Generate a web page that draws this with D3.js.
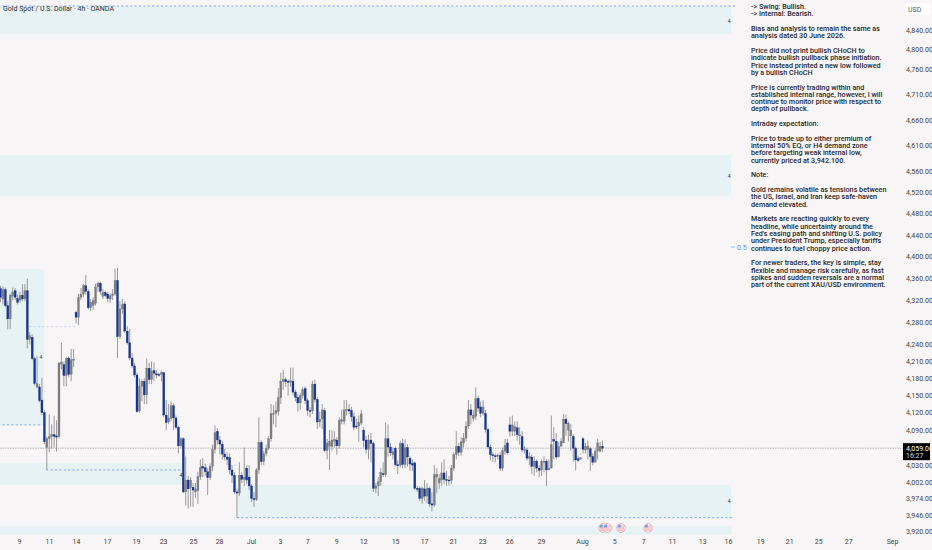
<!DOCTYPE html>
<html>
<head>
<meta charset="utf-8">
<script src="https://cdn.jsdelivr.net/npm/d3@7"></script>
<style>
  html, body { margin: 0; padding: 0; background: #f7f5f6; }
  svg { display: block; }
  .tick text { font-family: "Liberation Sans Narrow", Roboto, sans-serif; font-size: 7px; fill: #444; }
</style>
</head>
<body>
<div id="chart"></div>
<script>
// 4h candles, oldest first
const opens = [
  4341,4322,4339,4310,4286,4327,4337,4323,4320,4329,4322,4337,4249,4253,4215,4165,4165,4142,4120,4060,4075,4079,4082,4080,4079,4205,4204,4185,4216,4187,4212,
  4298,4289,4325,4331,4346,4336,4306,4310,4314,4344,4351,4327,4334,4331,4322,4328,4331,4356,4254,4304,4313,4264,4243,4216,4202,4186,4123,4166,4175,4151,4198,4178,4194,4188,4187,4187,
  4190,4116,4104,4110,4132,4111,4095,4063,4075,3985,4005,3992,3993,3985,3987,4011,4028,4026,4019,4009,4028,4057,4088,4073,4066,4049,4044,4043,4022,4013,3985,3983,4013,4006,4025,4010,3995,3974,
  3972,4022,4069,4036,4050,4059,4075,4117,4119,4122,4146,4174,4178,4175,4173,4175,4156,4147,4137,4150,4162,4141,
  4124,4123,4170,4143,4104,4109,4124,4055,4062,4062,4071,4073,4063,4105,4105,4124,4126,4124,4113,4097,4097,4102,
  4090,4073,4057,4073,4067,3991,3995,4002,4016,4014,4075,4061,4048,4059,4031,4030,4067,4031,4060,4042,4033,4034,3991,3991,3974,3990,3978,3991,3965,3963,4010,4000,4005,4017,4006,4005,4004,4025,4048,4062,4052,4068,4076,4097,4125,4110,4114,4145,4130,4119,4119,4091,4061,4048,4046,4045,4047,4025,4054,4068,
  4099,4088,4088,4094,4080,4079,4056,4056,4041,4044,4028,4037,4025,4022,4035,4037,4022,4025,4074,4071,4044,4062,4068,4109,4090,4080,4079,4059,4041,4040,4075,4056,4057,4058,4045,4035,4054,4054,4062
];
const highs = [
  4346,4345,4343,4318,4332,4343,4342,4330,4335,4349,4349,4359,4262,4258,4218,4219,4170,4181,4124,4079,4117,4100,4115,4107,4209,4243,4210,4218,4219,4232,4232,
  4301,4331,4342,4350,4366,4340,4322,4325,4350,4353,4353,4340,4337,4335,4332,4340,4378,4379,4318,4322,4318,4273,4268,4225,4207,4190,4180,4178,4180,4215,4208,4210,4208,4195,4190,4194,
  4192,4142,4135,4140,4136,4115,4098,4078,4078,4045,4012,4010,4000,4000,4018,4040,4042,4033,4025,4033,4065,4098,4093,4080,4072,4058,4052,4050,4030,4018,3990,4035,4018,4060,4030,4030,3998,3985,
  4025,4112,4072,4055,4065,4080,4135,4133,4140,4163,4190,4195,4182,4178,4199,4199,4160,4152,4155,4165,4166,4145,
  4130,4176,4178,4147,4122,4135,4128,4075,4090,4090,4088,4078,4112,4125,4142,4142,4135,4130,4120,4110,4115,4125,
  4095,4080,4082,4085,4070,4000,4010,4025,4035,4103,4100,4068,4060,4062,4038,4072,4075,4074,4066,4045,4040,4036,3995,3994,3994,4005,4000,3994,3985,4030,4025,4015,4035,4040,4020,4012,4030,4052,4088,4068,4078,4085,4105,4142,4135,4125,4164,4150,4140,4142,4125,4094,4065,4052,4050,4050,4052,4060,4075,4075,
  4113,4115,4105,4105,4095,4088,4062,4060,4052,4048,4045,4040,4030,4040,4045,4040,4040,4115,4095,4085,4070,4076,4118,4117,4105,4100,4083,4062,4046,4048,4078,4068,4072,4062,4050,4058,4075,4070,4072
];
const lows = [
  4316,4312,4307,4267,4268,4320,4320,4312,4315,4318,4318,4233,4240,4212,4168,4162,4138,4116,4066,4022,4052,4058,4060,4053,4076,4196,4166,4166,4182,4175,4200,
  4278,4275,4320,4325,4330,4303,4300,4303,4310,4335,4330,4322,4325,4316,4315,4320,4328,4216,4250,4295,4260,4240,4212,4198,4182,4120,4120,4140,4135,4135,4170,4170,4175,4180,4183,4175,
  4112,4090,4100,4105,4090,4092,4050,4060,3983,3962,3957,3960,3960,3975,3965,4005,4010,4012,3980,4005,4020,4050,4065,4048,4040,4038,4030,4015,4000,3982,3942,3978,4000,3995,3998,3988,3968,3960,
  3970,4015,4030,4030,4045,4056,4070,4100,4095,4115,4135,4160,4165,4150,4165,4150,4140,4122,4125,4145,4135,4115,
  4112,4118,4138,4092,4095,4092,4052,4040,4022,4055,4060,4048,4058,4100,4100,4115,4118,4105,4090,4092,4070,4098,
  4060,4050,4040,4035,3985,3983,3978,3995,4010,4010,4045,4046,4040,4028,4015,4026,4025,4025,4028,4020,4020,3988,3985,3970,3965,3970,3966,3960,3952,3960,3983,3990,3995,3998,3995,3996,3998,4020,4040,4046,4046,4060,4070,4092,4100,4105,4108,4122,4112,4115,4086,4058,4038,4036,4035,4040,4020,4020,4048,4048,
  4079,4080,4080,4072,4065,4052,4050,4038,4030,4015,4012,4018,4010,4012,4018,3995,4022,4060,4040,4040,4055,4065,4095,4080,4070,4055,4036,4021,4036,4050,4050,4050,4040,4020,4030,4048,4040,4052,4052
];
const closes = [
  4325,4339,4310,4286,4329,4335,4325,4316,4328,4322,4337,4249,4256,4215,4171,4171,4141,4120,4070,4076,4079,4083,4079,4078,4207,4209,4185,4215,4187,4213,4214,
  4289,4325,4331,4346,4336,4306,4316,4319,4344,4351,4336,4334,4328,4323,4328,4331,4356,4254,4304,4312,4264,4243,4216,4202,4186,4122,4166,4175,4151,4198,4178,4193,4189,4186,4186,4190,
  4116,4103,4111,4132,4111,4095,4063,4075,3985,4005,3990,4005,3988,3990,4011,4026,4025,4019,4009,4028,4057,4086,4073,4066,4049,4044,4040,4022,4013,3985,3983,4013,4006,4010,4005,3995,3974,3972,
  4022,4069,4036,4050,4059,4075,4119,4119,4124,4146,4175,4178,4174,4173,4176,4156,4147,4137,4150,4160,4141,4124,
  4122,4170,4143,4104,4109,4125,4055,4068,4071,4073,4074,4063,4107,4108,4125,4126,4123,4113,4095,4096,4103,4118,
  4072,4057,4073,4067,3991,3995,4002,4018,4014,4075,4061,4051,4053,4031,4029,4067,4031,4060,4044,4032,4030,3991,3989,3974,3991,3978,3991,3965,3963,4014,4015,4008,4017,4006,4005,4004,4025,4048,4062,4052,4070,4076,4097,4125,4116,4116,4145,4128,4119,4130,4091,4061,4048,4046,4045,4047,4025,4055,4064,4051,
  4088,4099,4096,4082,4082,4056,4057,4042,4045,4028,4037,4025,4021,4037,4037,4022,4025,4065,4071,4044,4062,4071,4109,4101,4102,4090,4059,4039,4038,4043,4057,4062,4062,4045,4035,4054,4068,4062,4059
];

const priceTicks = [4840,4800,4760,4710,4660,4610,4560,4520,4480,4440,4400,4360,4320,4280,4240,4210,4180,4150,4120,4090,4030,4002,3974,3946,3920];
const lastPrice = 4059.06;

// date labels, placed in bar numbers (the axis runs on past the last candle)
const dateTicks = [7.6,19.9,31,43.7,55.6,66.7,79,89.7,102.8,114.7,125.8,137.7,148.8,161.9,173.8,185.7,197.6,208.7,221.8,238.6,251.8,263.7,275.5,287.9,298.5,311.7,323.6,335.5,347.8,365.8];
const dateLabels = ["9","11","14","17","19","23","25","28","Jul","3","7","9","12","15","17","21","23","26","29","Aug","5","7","11","13","16","19","21","25","27","Sep"];

// supply and demand boxes, prices and bar numbers
const zoneTops = [4889,4592,4377,4034,3997,3928];
const zoneBottoms = [4832,4514,4099,3997,3942,3914];
const zoneStarts = [-1,-1,-1,-1,97,-1];
const zoneEnds = [299.8,299.8,17.9,74.5,299.8,299.8];

const levelPrices = [4889,4099,4022,3942,4272,4030];
const levelStarts = [-1,-1,18.7,97,11.7,94];
const levelEnds = [302.2,17,74.6,301,30.6,97];
const levelOpacity = [1,1,1,1,0.35,0.35];

const markPrices = [4859,4552,4217,4013,3970];
const markBars = [299,299,16.6,74,299];

const newsBars = [247.2,249,254.6,265.7];
const newsPrice = 3925;

const header = "Gold Spot / U.S. Dollar · 4h · OANDA";
const noteLines = [
  "-> Swing:  Bullish.",
  "-> Internal:  Bearish.",
  "",
  "Bias and analysis to remain the same as",
  "analysis dated 30 June 2026.",
  "",
  "Price did not print bullish CHoCH to",
  "indicate bullish pullback phase initiation.",
  "Price instead printed a new low followed",
  "by a bullish CHoCH",
  "",
  "Price is currently trading within and",
  "established internal range, however, I will",
  "continue to monitor price with respect to",
  "depth of pullback.",
  "",
  "Intraday expectation:",
  "",
  "Price to trade up to either premium of",
  "internal 50% EQ, or H4 demand zone",
  "before targeting weak internal low,",
  "currently priced at 3,942.100.",
  "",
  "Note:",
  "",
  "Gold remains volatile as tensions between",
  "the US, Israel, and Iran keep safe-haven",
  "demand elevated.",
  "",
  "Markets are reacting quickly to every",
  "headline, while uncertainty around the",
  "Fed's easing path and shifting U.S. policy",
  "under President Trump, especially tariffs",
  "continues to fuel choppy price action.",
  "",
  "For newer traders, the key is simple, stay",
  "flexible and manage risk carefully, as fast",
  "spikes and sudden reversals are a normal",
  "part of the current XAU/USD environment."
];

const width = 932, height = 550;
const narrow = '"Liberation Sans Narrow", Roboto, sans-serif';

const x = d3.scaleLinear().domain([0, 247]).range([0.5, 602.5]);
const y = d3.scaleLog().domain([3920, 4840]).range([531, 30]);

const svg = d3.select("#chart").append("svg")
  .attr("width", width)
  .attr("height", height)
  .style("background", "#f7f5f6");

// boxes
svg.append("g").selectAll("rect")
  .data(zoneTops)
  .enter().append("rect")
  .attr("x", (d, i) => x(zoneStarts[i]))
  .attr("y", d => y(d))
  .attr("width", (d, i) => x(zoneEnds[i]) - x(zoneStarts[i]))
  .attr("height", (d, i) => y(zoneBottoms[i]) - y(d))
  .attr("fill", "#e6f2f3");

// last price line
svg.append("line")
  .attr("x1", 0).attr("x2", 904)
  .attr("y1", y(lastPrice)).attr("y2", y(lastPrice))
  .attr("stroke", "#a9a9ab")
  .attr("stroke-width", 0.8)
  .attr("stroke-dasharray", "1.5 1");

// dashed levels
svg.append("g").selectAll("line")
  .data(levelPrices)
  .enter().append("line")
  .attr("x1", (d, i) => x(levelStarts[i]))
  .attr("x2", (d, i) => x(levelEnds[i]))
  .attr("y1", d => y(d))
  .attr("y2", d => y(d))
  .attr("stroke", "#7ea8f4")
  .attr("stroke-width", 1)
  .attr("stroke-dasharray", "2.2 2.2")
  .attr("opacity", (d, i) => levelOpacity[i]);

// small zone marks
svg.append("g").selectAll("text")
  .data(markPrices)
  .enter().append("text")
  .attr("x", (d, i) => x(markBars[i]))
  .attr("y", d => y(d) + 2)
  .attr("text-anchor", "middle")
  .style("font-family", narrow)
  .style("font-size", "5px")
  .style("fill", "#333")
  .text("4");

// candles
const candles = svg.append("g").selectAll("g")
  .data(closes)
  .enter().append("g");

candles.append("line")
  .attr("x1", (d, i) => x(i))
  .attr("x2", (d, i) => x(i))
  .attr("y1", (d, i) => y(highs[i]))
  .attr("y2", (d, i) => y(lows[i]))
  .attr("stroke", "#8f8f92")
  .attr("stroke-width", 0.9);

candles.append("rect")
  .attr("x", (d, i) => x(i) - 1)
  .attr("y", (d, i) => y(Math.max(opens[i], d)))
  .attr("width", 2)
  .attr("height", (d, i) => Math.max(1, Math.abs(y(opens[i]) - y(d))))
  .attr("fill", (d, i) => d >= opens[i] ? "#7d7d80" : "#12369f")
  .attr("stroke", (d, i) => d >= opens[i] ? "#77777a" : "#1c2f70")
  .attr("stroke-width", 0.3);

// news flags
const flags = svg.append("g").selectAll("g")
  .data(newsBars)
  .enter().append("g")
  .attr("transform", d => `translate(${x(d)},${y(newsPrice)})`);
flags.append("circle").attr("r", 4.4).attr("fill", "#fff").attr("stroke", "#e7a3ad").attr("stroke-width", 0.8);
flags.selectAll("rect.stripe")
  .data([-2, 0, 2])
  .enter().append("rect")
  .attr("class", "stripe")
  .attr("x", -3.4).attr("width", 6.8)
  .attr("y", d => d - 0.4).attr("height", 0.9)
  .attr("fill", "#e58a96");
flags.append("path")
  .attr("d", "M-3.6,-0.4 A3.6,3.6 0 0 1 -0.4,-3.6 L-0.4,-0.4 Z")
  .attr("fill", "#7a9ad8");

// axes
svg.append("g")
  .attr("transform", "translate(904,0)")
  .call(d3.axisRight(y).tickValues(priceTicks).tickFormat(d3.format(",.3f")).tickSize(0).tickPadding(2))
  .call(g => g.select(".domain").remove());

svg.append("g")
  .attr("transform", "translate(0,539)")
  .call(d3.axisBottom(x).tickValues(dateTicks).tickFormat((d, i) => dateLabels[i]).tickSize(0).tickPadding(0))
  .call(g => g.select(".domain").remove());

// price tag
svg.append("rect").attr("x", 903).attr("y", y(lastPrice) - 5).attr("width", 27).attr("height", 17).attr("fill", "#000");
svg.append("text").attr("x", 906).attr("y", y(lastPrice) + 2.5)
  .style("font-family", narrow).style("font-size", "7px").style("fill", "#fff").text("4,059.060");
svg.append("text").attr("x", 906).attr("y", y(lastPrice) + 9.5)
  .style("font-family", narrow).style("font-size", "7px").style("fill", "#ddd").text("16:27");

// currency box
svg.append("rect").attr("x", 905).attr("y", 3).attr("width", 25).attr("height", 12).attr("rx", 1.5).attr("fill", "#fff");
svg.append("text").attr("x", 908).attr("y", 11.5)
  .style("font-family", narrow).style("font-size", "7px").style("fill", "#555").text("USD");

// 0.5 level tag
svg.append("line").attr("x1", 731).attr("x2", 735).attr("y1", 247).attr("y2", 247).attr("stroke", "#7ea8f4").attr("stroke-width", 0.8);
svg.append("text").attr("x", 737).attr("y", 249.5)
  .style("font-family", narrow).style("font-size", "7px").style("fill", "#5f8fe8").text("0.5");

// title
svg.append("text").attr("x", 3).attr("y", 11)
  .style("font-family", narrow).style("font-size", "7px").style("fill", "#333").text(header);

// analysis note
svg.append("g").selectAll("text")
  .data(noteLines)
  .enter().append("text")
  .attr("x", 751)
  .attr("y", (d, i) => 9 + i * 7.32)
  .style("font-family", narrow)
  .style("font-size", "7.2px")
  .style("font-weight", "500")
  .style("fill", "#26262a")
  .text(d => d);
</script>
</body>
</html>
